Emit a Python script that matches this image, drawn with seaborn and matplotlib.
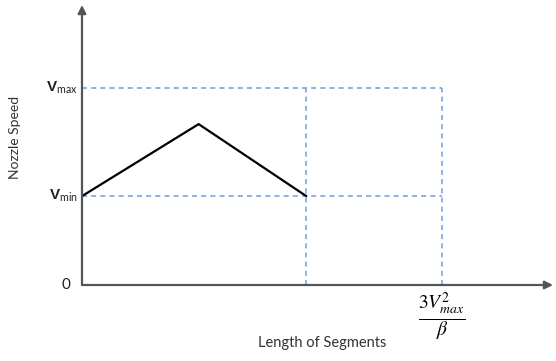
import matplotlib
matplotlib.use("Agg")
import matplotlib.pyplot as plt
import seaborn as sns
import pandas as pd

sns.set_theme(style="white")
plt.rcParams['font.family'] = ['Lato', 'DejaVu Sans']
plt.rcParams['mathtext.fontset'] = 'custom'
plt.rcParams['mathtext.rm'] = 'Lato'
plt.rcParams['mathtext.bf'] = 'Liberation Sans:bold'
plt.rcParams['mathtext.it'] = 'Lato:italic'

# data
seg_x = [0.0, 1.04, 2.0]
seg_y = [1.0, 1.81, 1.0]
v_min = 1.0
v_max = 2.22
x_limit = 3.21
y_tick_labels = ["0", r"$\mathbf{V}_{\mathrm{min}}$", r"$\mathbf{V}_{\mathrm{max}}$"]
x_tick_label = r"$\frac{3V_{max}^{2}}{\beta}$"

df = pd.DataFrame({"x": seg_x, "y": seg_y})

fig = plt.figure(figsize=(5.56, 3.61), dpi=100)
ax = fig.add_axes([82/556, 76/361, (553-82)/556, (285-5)/361])
ax.set_xlim(0, 4.2)
ax.set_ylim(0, 3.15)

blue = "#7ba4dc"
dash = (3, 2.5)
ax.plot([0, x_limit], [v_max, v_max], color=blue, lw=1.2, dashes=dash, clip_on=False)
ax.plot([0, x_limit], [v_min, v_min], color=blue, lw=1.2, dashes=dash, clip_on=False)
ax.plot([seg_x[-1], seg_x[-1]], [0, v_max], color=blue, lw=1.2, dashes=dash)
ax.plot([x_limit, x_limit], [0, v_max], color=blue, lw=1.2, dashes=dash)

sns.lineplot(data=df, x="x", y="y", ax=ax, color="black", lw=1.6, sort=False)

for s in ax.spines.values():
    s.set_visible(False)
ax.set_xticks([])
ax.set_yticks([])
ax.set_xlabel("")
ax.set_ylabel("")

axis_col = "#555555"
ax.annotate("", xy=(4.2, 0), xytext=(0, 0), annotation_clip=False,
            arrowprops=dict(arrowstyle="-|>", color=axis_col, lw=1.6,
                            mutation_scale=12, shrinkA=0, shrinkB=0))
ax.annotate("", xy=(0, 3.15), xytext=(0, 0), annotation_clip=False,
            arrowprops=dict(arrowstyle="-|>", color=axis_col, lw=1.6,
                            mutation_scale=12, shrinkA=0, shrinkB=0))

for yv, lab in zip([0, v_min, v_max], y_tick_labels):
    off = -0.1 if lab == "0" else -0.04
    ax.text(off, yv, lab, ha="right", va="center", fontsize=11, color="#222222")

ax.text(x_limit, -0.07, x_tick_label, ha="center", va="top", fontsize=20,
        color="black", math_fontfamily="stix")

fig.text(15/556, 1 - 137/361, "Nozzle Speed", rotation=90, ha="center", va="center",
         fontsize=10, color="#333333")
fig.text(322/556, 1 - 343/361, "Length of Segments", ha="center", va="center",
         fontsize=10.5, color="#333333")

fig.savefig("out.png", dpi=100)
